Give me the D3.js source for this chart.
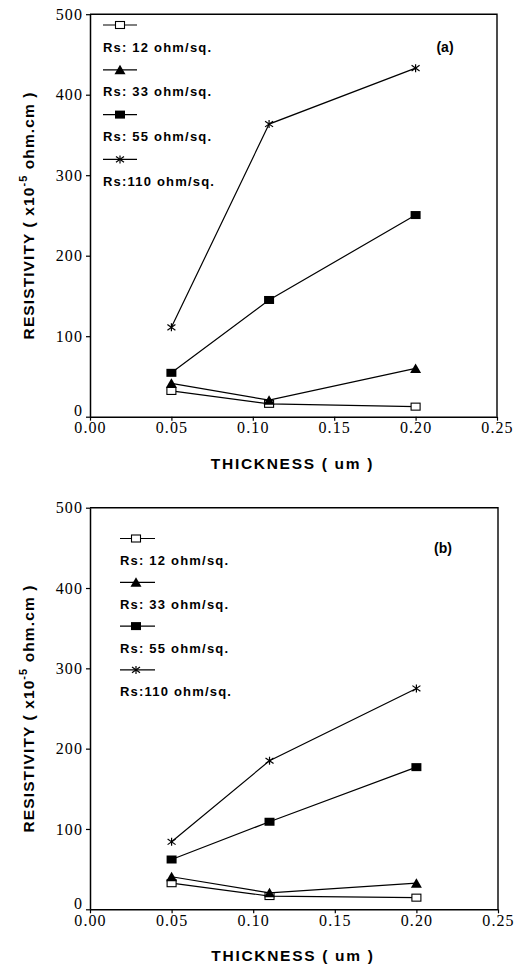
<!DOCTYPE html>
<html>
<head>
<meta charset="utf-8">
<script src="https://cdn.jsdelivr.net/npm/d3@7"></script>
<style>
  html, body { margin: 0; padding: 0; background: #fff; }
  svg { display: block; }
</style>
</head>
<body>
<svg id="chart" width="523" height="967"></svg>
<script>
// ---------------- DATA ----------------
const thickness = [0.05, 0.11, 0.20];
const xTickValues = [0, 0.05, 0.10, 0.15, 0.20, 0.25];
const yTickValues = [0, 100, 200, 300, 400, 500];
const seriesNames = ["Rs: 12 ohm/sq.", "Rs: 33 ohm/sq.", "Rs: 55 ohm/sq.", "Rs:110 ohm/sq."];
const seriesMarkers = ["openSquare", "triangle", "filledSquare", "asterisk"];

const panelA_rs12  = [32, 16, 12.5];
const panelA_rs33  = [41.5, 20.5, 60];
const panelA_rs55  = [54.5, 145, 250.5];
const panelA_rs110 = [111, 363.5, 433];

const panelB_rs12  = [32.5, 16.5, 14.5];
const panelB_rs33  = [40.5, 20.5, 32.5];
const panelB_rs55  = [62, 109, 177];
const panelB_rs110 = [84, 185, 275];

const panelLabels = ["(a)", "(b)"];
const xTitle = "THICKNESS ( um )";

// ---------------- LAYOUT ----------------
const panels = [
  { label: panelLabels[0], series: [panelA_rs12, panelA_rs33, panelA_rs55, panelA_rs110],
    x0: 90, x1: 497, yTop: 14.2, yBot: 416.7,
    legX: 103, legY: 25, legGap: 44.8, legMarkerDx: 17, legLen: 34,
    labelX: 445, labelY: 47 },
  { label: panelLabels[1], series: [panelB_rs12, panelB_rs33, panelB_rs55, panelB_rs110],
    x0: 90, x1: 498, yTop: 507.7, yBot: 909.3,
    legX: 120, legY: 538.5, legGap: 43.8, legMarkerDx: 16, legLen: 35,
    labelX: 443, labelY: 548 }
];

const svg = d3.select("#chart");
const SANS = "'Liberation Sans', Arial, sans-serif";
const SERIF = "'Liberation Serif', 'Times New Roman', serif";

function drawMarker(g, type, cx, cy) {
  if (type === "openSquare") {
    g.append("rect").attr("x", cx - 4.5).attr("y", cy - 3.5).attr("width", 9).attr("height", 7)
      .attr("fill", "#fff").attr("stroke", "#000").attr("stroke-width", 1.1);
  } else if (type === "filledSquare") {
    g.append("rect").attr("x", cx - 5).attr("y", cy - 4).attr("width", 10).attr("height", 8)
      .attr("fill", "#000");
  } else if (type === "triangle") {
    g.append("path").attr("d", d3.line()([[cx - 5.5, cy + 4.5], [cx + 5.5, cy + 4.5], [cx, cy - 5]]) + "Z")
      .attr("fill", "#000");
  } else if (type === "asterisk") {
    const r = 4;
    const segs = [[[cx - r, cy - r * 0.7], [cx + r, cy + r * 0.7]],
                  [[cx - r, cy + r * 0.7], [cx + r, cy - r * 0.7]],
                  [[cx, cy - r], [cx, cy + r]]];
    segs.forEach(s => g.append("path").attr("d", d3.line()(s))
      .attr("stroke", "#000").attr("stroke-width", 1.2).attr("fill", "none"));
  }
}

panels.forEach(p => {
  const x = d3.scaleLinear().domain([0, 0.25]).range([p.x0, p.x1]);
  const y = d3.scaleLinear().domain([0, 500]).range([p.yBot, p.yTop]);
  const g = svg.append("g");

  // frame (top & right)
  g.append("path")
    .attr("d", d3.line()([[x(0), y(500)], [x(0.25), y(500)], [x(0.25), y(0)]]))
    .attr("fill", "none").attr("stroke", "#000").attr("stroke-width", 1.4);

  // x axis
  const xa = g.append("g").attr("transform", `translate(0,${y(0)})`)
    .call(d3.axisBottom(x).tickValues(xTickValues).tickFormat(d3.format(".2f"))
      .tickSize(4).tickSizeOuter(0).tickPadding(1));
  xa.select(".domain").attr("stroke-width", 1.5);
  xa.selectAll(".tick line").attr("stroke-width", 1.2);
  xa.selectAll("text").attr("font-family", SERIF).attr("font-size", 16)
    .attr("letter-spacing", 1.1).attr("fill", "#000");

  // y axis
  const ya = g.append("g").attr("transform", `translate(${x(0)},0)`)
    .call(d3.axisLeft(y).tickValues(yTickValues).tickFormat(d3.format("d"))
      .tickSize(4).tickSizeOuter(0).tickPadding(3));
  ya.select(".domain").attr("stroke-width", 1.5);
  ya.selectAll(".tick line").attr("stroke-width", 1.2);
  ya.selectAll("text").attr("font-family", SERIF).attr("font-size", 16)
    .attr("letter-spacing", 1.1).attr("fill", "#000")
    .attr("dy", d => d === 0 ? "-0.05em" : "0.32em");

  // series lines & markers
  p.series.forEach((vals, i) => {
    const pts = thickness.map((t, j) => [x(t), y(vals[j])]);
    g.append("path").attr("d", d3.line()(pts))
      .attr("fill", "none").attr("stroke", "#000").attr("stroke-width", 1.2);
  });
  p.series.forEach((vals, i) => {
    thickness.forEach((t, j) => drawMarker(g, seriesMarkers[i], x(t), y(vals[j])));
  });

  // legend
  seriesNames.forEach((name, i) => {
    const ly = p.legY + i * p.legGap;
    g.append("line").attr("x1", p.legX).attr("x2", p.legX + p.legLen)
      .attr("y1", ly).attr("y2", ly).attr("stroke", "#000").attr("stroke-width", 1.2);
    drawMarker(g, seriesMarkers[i], p.legX + p.legMarkerDx, ly);
    g.append("text").attr("x", p.legX).attr("y", ly + 22 + 4.5)
      .attr("font-family", SANS).attr("font-weight", "bold").attr("font-size", 13)
      .attr("letter-spacing", 1.2).attr("fill", "#000").text(name);
  });

  // panel label
  g.append("text").attr("x", p.labelX).attr("y", p.labelY + 5)
    .attr("text-anchor", "middle").attr("font-family", SANS).attr("font-weight", "bold")
    .attr("font-size", 14).attr("fill", "#000").text(p.label);

  // x title
  g.append("text").attr("x", (x(0) + x(0.25)) / 2 - 1).attr("y", y(0) + 52)
    .attr("text-anchor", "middle").attr("font-family", SANS).attr("font-weight", "bold")
    .attr("font-size", 15.5).attr("letter-spacing", 1.7).attr("fill", "#000").text(xTitle);

  // y title
  const cy = (y(0) + y(500)) / 2;
  const yt = g.append("text").attr("transform", `translate(34,${cy}) rotate(-90)`)
    .attr("text-anchor", "middle").attr("font-family", SANS).attr("font-weight", "bold")
    .attr("font-size", 15.5).attr("letter-spacing", 1.1).attr("fill", "#000");
  yt.append("tspan").text("RESISTIVITY ( x10");
  yt.append("tspan").attr("dy", -7).attr("font-size", 11).text("-5");
  yt.append("tspan").attr("dy", 7).text(" ohm.cm )");
});
</script>
</body>
</html>
